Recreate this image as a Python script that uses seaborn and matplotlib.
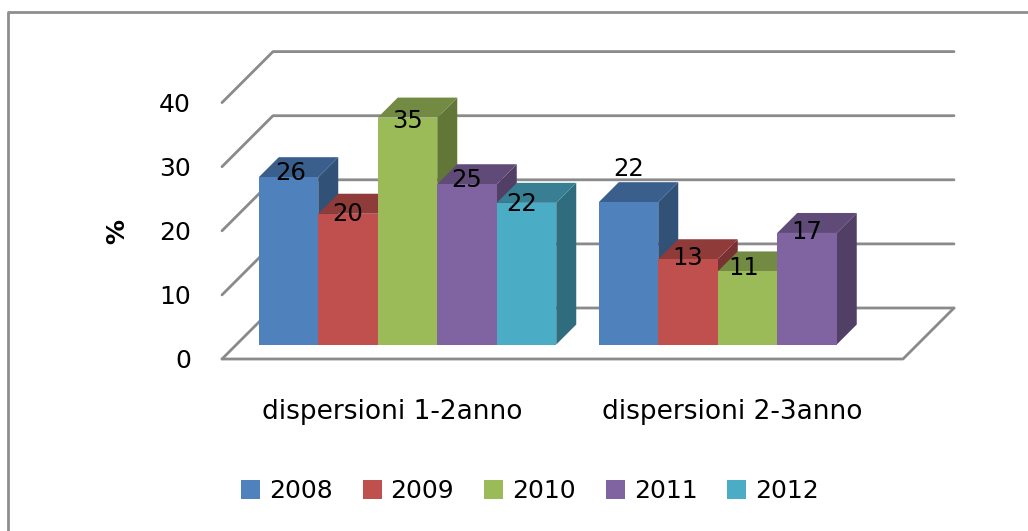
import numpy as np
import pandas as pd
import seaborn as sns
import matplotlib
matplotlib.use("Agg")
import matplotlib.pyplot as plt
from matplotlib.colors import to_rgb
from matplotlib.lines import Line2D
from matplotlib.patches import Polygon
from matplotlib.transforms import ScaledTranslation

categories = ["dispersioni 1-2anno", "dispersioni 2-3anno"]
years = ["2008", "2009", "2010", "2011", "2012"]
values_2008 = [26.1, 22.2]
values_2009 = [20.4, 13.3]
values_2010 = [35.4, 11.4]
values_2011 = [25.0, 17.4]
values_2012 = [22.1, np.nan]
colors = ["#4F81BD", "#C0504D", "#9BBB59", "#8064A2", "#4BACC6"]
y_ticks = [0, 10, 20, 30, 40]

series = [values_2008, values_2009, values_2010, values_2011, values_2012]
rows = [{"categoria": c, "anno": y, "valore": s[i]}
        for y, s in zip(years, series) for i, c in enumerate(categories)]
df = pd.DataFrame(rows)

W, H, DPI = 1028, 531, 100
sns.set_theme(style="white")
plt.rcParams["font.family"] = ["DejaVu Sans"]
fig = plt.figure(figsize=(W / DPI, H / DPI), dpi=DPI)

# layout in pixels of the reference
L, R, BOT = 222, 903, 359
ZERO = 344.5          # pixel row of the bars' base
SX, SY = 340.0, 6.41  # pixels per data unit
C0 = 407.5            # pixel column of the first category's centre
TOP = ZERO - y_ticks[-1] * SY
ax = fig.add_axes([L / W, 1 - BOT / H, (R - L) / W, (BOT - TOP) / H])

sns.barplot(data=df, x="categoria", y="valore", hue="anno", hue_order=years,
            order=categories, palette=colors, width=0.875, gap=0, saturation=1,
            linewidth=0, ax=ax, legend=True)
ax.set_xlim((L - C0) / SX, (R - C0) / SX)
ax.set_ylim(-(BOT - ZERO) / SY, y_ticks[-1])
ax.set_xlabel("")
ax.set_ylabel("%", fontsize=18, fontweight="bold", color="black")
ax.yaxis.set_label_coords((129 - L) / (R - L), 1 - (231 - TOP) / (BOT - TOP))
sns.despine(ax=ax, left=True, bottom=True, top=True, right=True)
ax.patch.set_alpha(0)

# perspective: back wall and floor
GRID = "#8A8A8A"
wall_dx, wall_dy = 51 / SX, 51 / SY
x_l, x_r = ax.get_xlim()
y_base = ax.get_ylim()[0]
for v in y_ticks:
    ax.add_line(Line2D([x_l, x_l + wall_dx, x_r + wall_dx],
                       [y_base + v, y_base + v + wall_dy, y_base + v + wall_dy],
                       color=GRID, lw=2, clip_on=False, zorder=1))
ax.add_line(Line2D([x_l, x_r, x_r + wall_dx],
                   [y_base, y_base, y_base + wall_dy],
                   color=GRID, lw=2, clip_on=False, zorder=1))

# bar depth faces, painted left to right
bar_dx, bar_dy = 20 / SX, 20 / SY
bars = sorted([p for p in ax.patches if p.get_height() > 0], key=lambda p: p.get_x())
label_nudge = {(0, 0): (2, 4), (0, 1): (0, 0), (0, 2): (0, -3), (0, 3): (0, 4), (0, 4): (-5, -1),
               (1, 0): (0, 33), (1, 1): (0, 1), (1, 2): (-4, 3), (1, 3): (0, 1)}
for n, b in enumerate(bars):
    x0, x1, h = b.get_x(), b.get_x() + b.get_width(), b.get_height()
    base = np.array(to_rgb(b.get_facecolor()[:3]))
    top = Polygon([(x0, h), (x1, h), (x1 + bar_dx, h + bar_dy), (x0 + bar_dx, h + bar_dy)],
                  closed=True, fc=base * 0.74, ec="none", clip_on=False, zorder=3 + n)
    side = Polygon([(x1, 0), (x1 + bar_dx, bar_dy), (x1 + bar_dx, h + bar_dy), (x1, h)],
                   closed=True, fc=base * 0.63, ec="none", clip_on=False, zorder=3 + n)
    ax.add_patch(side)
    ax.add_patch(top)
    b.set_zorder(3 + n + 0.5)
    b.set_clip_on(False)
    cat = int(round(x0 + b.get_width() / 2))
    idx = int(round((x0 + 0.4375 - cat) / b.get_width()))
    nx, ny = label_nudge.get((cat, idx), (0, 0))
    ax.annotate(f"{h:.0f}", xy=(x0 + b.get_width() / 2, h), xytext=(nx * 0.72, ny * 0.72),
                textcoords="offset points", ha="center", va="center",
                fontsize=17.5, color="black", zorder=100)

# axis ticks and labels
ax.set_yticks(y_ticks)
ax.set_xticks(range(len(categories)))
ax.set_xticklabels(categories)
ax.tick_params(axis="y", length=0, pad=31 * 0.72, labelsize=18, labelcolor="black")
ax.tick_params(axis="x", length=0, pad=40 * 0.72, labelsize=19, labelcolor="black")
down = ScaledTranslation(0, -(BOT - ZERO) / DPI, fig.dpi_scale_trans)
left = ScaledTranslation(-15 / DPI, 0, fig.dpi_scale_trans)
for t in ax.get_yticklabels():
    t.set_transform(t.get_transform() + down)
for t in ax.get_xticklabels():
    t.set_transform(t.get_transform() + left)

sns.move_legend(ax, "center", bbox_to_anchor=(530 / W, 1 - 491 / H),
                bbox_transform=fig.transFigure, ncol=5, frameon=False, title=None,
                fontsize=18, handlelength=0.76, handleheight=0.76, handletextpad=0.36,
                columnspacing=1.2, borderpad=0, labelcolor="black")

# outer frame
fig.add_artist(Line2D([8 / W, 8 / W, 1], [0, 1 - 11.5 / H, 1 - 11.5 / H], color="#8E8E8E", lw=2))

fig.savefig("out.png", dpi=DPI)
